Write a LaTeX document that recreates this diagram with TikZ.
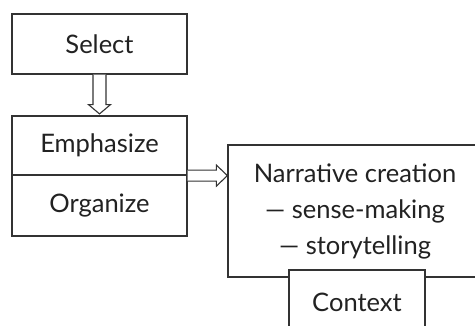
\documentclass[tikz,border=0pt]{standalone}
\usepackage{fontspec}
\setmainfont{Lato}
\usetikzlibrary{calc}
\definecolor{ink}{HTML}{222222}
\definecolor{edge}{HTML}{333333}
\tikzset{
  box/.style={draw=edge, line width=1.2pt, fill=white, text=ink, inner sep=0pt,
    font=\fontsize{25.5pt}{36pt}\selectfont, align=center},
  hollow/.style={draw=edge, line width=1.1pt, fill=white, line join=miter}
}
\begin{document}
\begin{tikzpicture}[x=1pt,y=-1pt]
\useasboundingbox (0,0) rectangle (475,325);
\clip (0,0) rectangle (475,325);
\node[box, minimum width=175pt, minimum height=60pt] (sel) at (99.5,44) {Select};
\node[box, minimum width=175pt, minimum height=59pt] (emp) at (99.5,145.5) {Emphasize};
\node[box, minimum width=175pt, minimum height=61pt] (org) at (99.5,205.5) {Organize};
\node[box, minimum width=254pt, minimum height=132pt] (nar) at (355,211) {Narrative creation\\— sense-making\\— storytelling};
\node[box, minimum width=136pt, minimum height=64pt] (ctx) at (357,302) {Context};
% down arrow
\draw[hollow] ($(sel.south)+(-6.5,0)$) -- ($(sel.south)+(-6.5,30)$) -- ($(sel.south)+(-11,30)$)
  -- ($(emp.north)+(0,-1.5)$) -- ($(sel.south)+(11,30)$) -- ($(sel.south)+(6.5,30)$)
  -- ($(sel.south)+(6.5,0)$);
% right arrow
\coordinate (tip) at (nar.west |- emp.south);
\draw[hollow] ($(emp.south east)+(0,-5.5)$) -- ($(tip)+(-11,-5.5)$) -- ($(tip)+(-11,-10.5)$)
  -- (tip) -- ($(tip)+(-11,10.5)$) -- ($(tip)+(-11,5.5)$) -- ($(emp.south east)+(0,5.5)$);
\end{tikzpicture}
\end{document}
